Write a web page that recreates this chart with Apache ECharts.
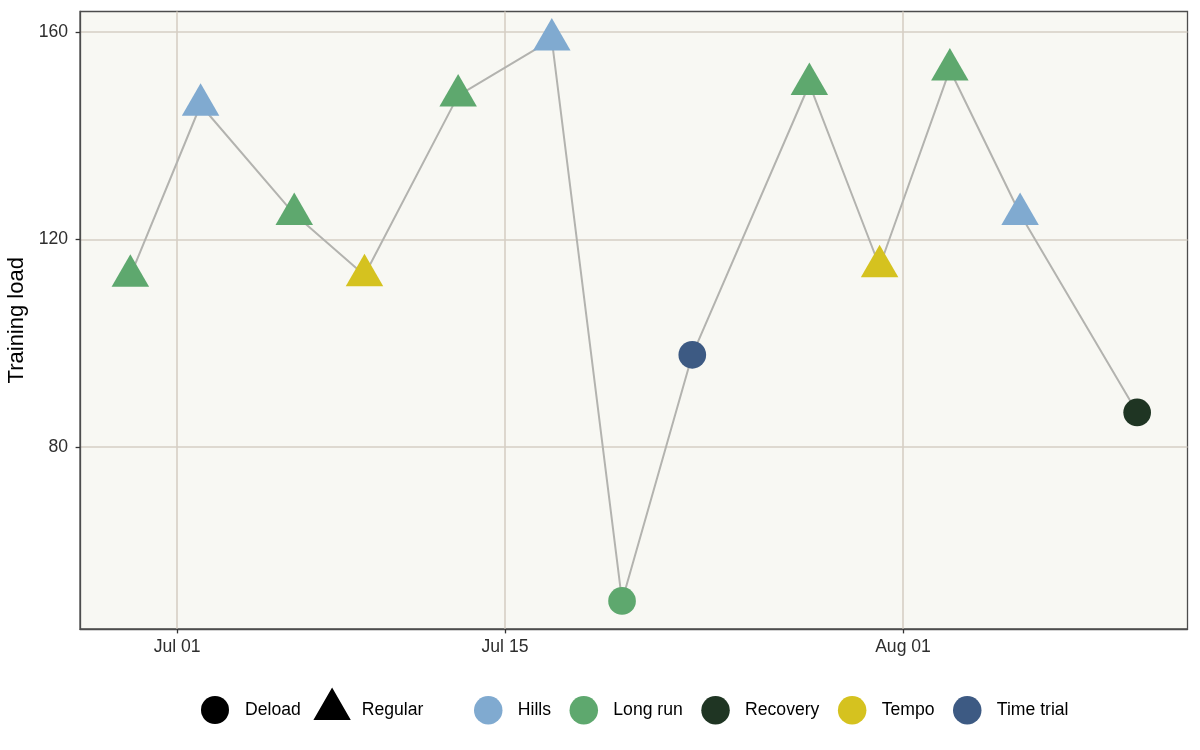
<!DOCTYPE html>
<html>
<head>
<meta charset="utf-8">
<title>Training load</title>
<script src="https://cdn.jsdelivr.net/npm/echarts@6.0.0/dist/echarts.min.js"></script>
<style>
  html, body { margin: 0; padding: 0; background: #fff; }
  #main { width: 1200px; height: 750px; }
</style>
</head>
<body>
<div id="main"></div>
<script>
// one entry per session
var dates = ['2024-06-29', '2024-07-02', '2024-07-06', '2024-07-09', '2024-07-13', '2024-07-17', '2024-07-20',
             '2024-07-23', '2024-07-28', '2024-07-31', '2024-08-03', '2024-08-06', '2024-08-11'];
var loads = [113.0, 145.9, 124.9, 113.1, 147.7, 158.5, 50.4, 97.8, 149.9, 114.8, 152.7, 124.9, 86.7];
var sessionTypes = ['Long run', 'Hills', 'Long run', 'Tempo', 'Long run', 'Hills', 'Long run',
                    'Time trial', 'Long run', 'Tempo', 'Long run', 'Hills', 'Recovery'];
var weekPhases = ['Regular', 'Regular', 'Regular', 'Regular', 'Regular', 'Regular', 'Deload',
                  'Deload', 'Regular', 'Regular', 'Regular', 'Regular', 'Deload'];

// scales
var types = ['Hills', 'Long run', 'Recovery', 'Tempo', 'Time trial'];
var typeColors = ['#80AAD0', '#5EA86E', '#1F3523', '#D5C21F', '#3D5A83'];
var phases = ['Deload', 'Regular'];
var phaseSymbols = ['circle', 'triangle'];

// tick labels
var xTicks = ['2024-07-01', '2024-07-15', '2024-08-01'];
var yTicks = [80, 120, 160];

var months = ['Jan', 'Feb', 'Mar', 'Apr', 'May', 'Jun', 'Jul', 'Aug', 'Sep', 'Oct', 'Nov', 'Dec'];
var font = 'Liberation Sans, Arial, Helvetica, sans-serif';

function toTime(s) {
    var p = s.split('-');
    return new Date(+p[0], +p[1] - 1, +p[2]).getTime();
}
function fmtDate(v) {
    var d = new Date(v);
    var dd = d.getDate();
    return months[d.getMonth()] + ' ' + (dd < 10 ? '0' + dd : dd);
}

var times = dates.map(toTime);
// ggplot-like 5% expansion
var tSpan = times[times.length - 1] - times[0];
var xMin = times[0] - tSpan * 0.05, xMax = times[times.length - 1] + tSpan * 0.05;
var yLo = Math.min.apply(null, loads), yHi = Math.max.apply(null, loads);
var ySpan = yHi - yLo;
var yMin = yLo - ySpan * 0.05, yMax = yHi + ySpan * 0.05;

var circleSize = 27.7;
var triSize = [37.5, 32.5];

var series = [];
// connecting line
series.push({
    type: 'line',
    name: 'path',
    data: times.map(function (t, i) { return [t, loads[i]]; }),
    symbol: 'none',
    lineStyle: { color: '#B3B3AF', width: 2 },
    z: 1,
    silent: true
});
// points, one series per session type
types.forEach(function (tp, k) {
    var pts = [];
    for (var i = 0; i < times.length; i++) {
        if (sessionTypes[i] !== tp) continue;
        var sym = phaseSymbols[phases.indexOf(weekPhases[i])];
        pts.push({
            value: [times[i], loads[i]],
            symbol: sym,
            symbolSize: sym === 'triangle' ? triSize : circleSize,
            // ggplot centres triangles on their centroid
            symbolOffset: sym === 'triangle' ? [0, -triSize[1] / 6] : [0, 0]
        });
    }
    series.push({
        type: 'scatter',
        name: tp,
        data: pts,
        itemStyle: { color: typeColors[k], opacity: 1 },
        z: 3
    });
});
// shape legend entries
phases.forEach(function (ph) {
    series.push({ type: 'scatter', name: ph, data: [], itemStyle: { color: '#000', opacity: 1 } });
});

var legendText = { fontFamily: font, fontSize: 17.6, color: '#000' };
// triangle in the top of a taller box, so the label lines up with the circles
var triIcon = 'path://M18.7,0L37.4,32.6L0,32.6Z M0,45.2L37.4,45.2';
var gridCol = '#D6CFC4';

var option = {
    animation: false,
    backgroundColor: '#fff',
    grid: {
        left: 80, right: 12.5, top: 11.5, bottom: 121,
        show: true, backgroundColor: '#F8F8F3',
        borderColor: '#4D4D4D', borderWidth: 1.3,
        outerBoundsMode: 'none'
    },
    legend: [
        {
            data: ['Deload'], icon: 'circle', left: 201, top: 696, padding: 0,
            itemWidth: 28, itemHeight: 28, selectedMode: false,
            itemStyle: { color: '#000', opacity: 1 },
            textStyle: Object.assign({ padding: [0, 0, 0, 11] }, legendText)
        },
        {
            data: ['Regular'], icon: triIcon, left: 313.4, top: 687.4, padding: 0,
            itemWidth: 37.4, itemHeight: 45.2, selectedMode: false,
            itemStyle: { color: '#000', opacity: 1 },
            textStyle: Object.assign({ padding: [0, 0, 0, 6] }, legendText)
        },
        {
            data: types, icon: 'circle', left: 474, top: 696, padding: 0,
            itemWidth: 28.5, itemHeight: 28.5, itemGap: 18.5, selectedMode: false,
            textStyle: Object.assign({ padding: [0, 0, 0, 10.3] }, legendText)
        }
    ],
    xAxis: {
        type: 'value',
        min: xMin, max: xMax,
        scale: true,
        axisLine: { show: true, onZero: false, lineStyle: { color: '#4D4D4D', width: 1.3 } },
        axisTick: {
            show: true, length: 4.4, lineStyle: { color: '#333', width: 1.3 },
            customValues: xTicks.map(toTime)
        },
        axisLabel: {
            customValues: xTicks.map(toTime),
            formatter: fmtDate,
            margin: 9.4, fontFamily: font, fontSize: 17.6, color: '#2E2E2E'
        },
        splitLine: { show: true, lineStyle: { color: gridCol, width: 1.6 } }
    },
    yAxis: {
        type: 'value',
        min: yMin, max: yMax,
        name: 'Training load',
        nameLocation: 'middle',
        nameGap: 44,
        nameRotate: 90,
        nameTextStyle: { fontFamily: font, fontSize: 22, color: '#000' },
        axisLine: { show: true, onZero: false, lineStyle: { color: '#4D4D4D', width: 1.3 } },
        axisTick: {
            show: true, length: 4.4, lineStyle: { color: '#333', width: 1.3 },
            customValues: yTicks
        },
        axisLabel: {
            customValues: yTicks,
            margin: 12, fontFamily: font, fontSize: 17.6, color: '#2E2E2E'
        },
        splitLine: { show: true, lineStyle: { color: gridCol, width: 1.6 } }
    },
    series: series
};

var chart = echarts.init(document.getElementById('main'));
chart.setOption(option);
</script>
</body>
</html>
